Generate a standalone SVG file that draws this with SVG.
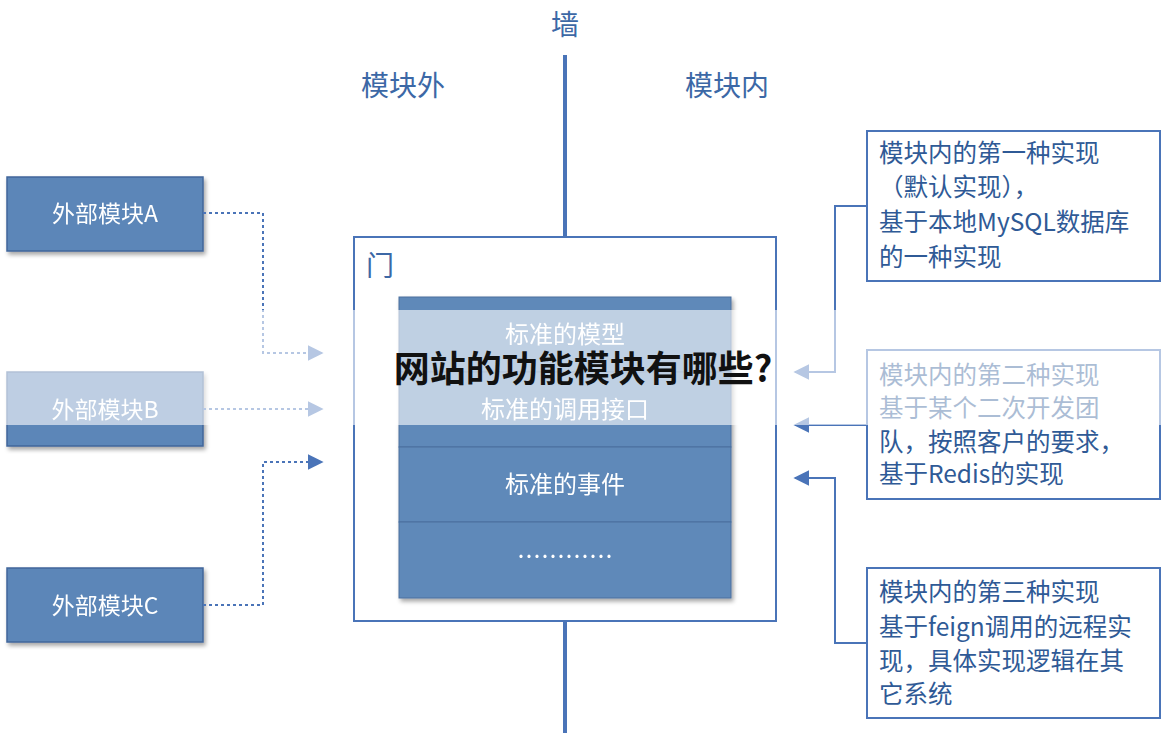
<svg xmlns="http://www.w3.org/2000/svg" width="1163" height="735" viewBox="0 0 1163 735">
<defs>
<style>
text{font-family:"Noto Sans CJK SC","Noto Sans",sans-serif}
.lbl{fill:#3c68a6;font-size:28px}
.mod rect{fill:#5b86b8;stroke:#41669a;stroke-width:1.5}
.mod text{fill:#fff;font-size:23px;text-anchor:middle}
.cell rect{fill:#5f89b9;stroke:#4a6f9e;stroke-width:1}
.cell text{fill:#fff;font-size:24px;text-anchor:middle}
.note rect{fill:#fff;stroke:#4a74b8;stroke-width:2}
.note text{fill:#2f5a96;font-size:24.5px}
.dot{fill:none;stroke:#4a74b8;stroke-width:2;stroke-dasharray:3 3}
.sol{fill:none;stroke:#4a74b8;stroke-width:2}
.wall{stroke:#4a74b8;stroke-width:4}
</style>
<marker id="ah" viewBox="0 0 10 10" refX="9" refY="5" markerWidth="16" markerHeight="16" markerUnits="userSpaceOnUse" orient="auto"><path d="M0,0L10,5L0,10z" fill="#4a74b8"/></marker>
<filter id="sh"><feDropShadow dx="2" dy="3" stdDeviation="2" flood-opacity="0.35"/></filter>
</defs>
<rect width="1163" height="735" fill="#fff"/>
<g id="wall"><text x="565" y="35" class="lbl" text-anchor="middle">墙</text>
<line class="wall" x1="565" y1="55" x2="565" y2="238"/><line class="wall" x1="565" y1="620" x2="565" y2="733"/></g>
<text x="403" y="96" class="lbl" text-anchor="middle">模块外</text>
<text x="727" y="96" class="lbl" text-anchor="middle">模块内</text>
<g id="door"><rect x="354" y="237" width="422" height="384" fill="#fff" stroke="#4a74b8" stroke-width="2"/>
<text x="366" y="276" class="lbl">门</text></g>
<g id="stack" filter="url(#sh)">
<g class="cell" id="c1"><rect x="399" y="297" width="332" height="75"/><text x="565" y="343">标准的模型</text></g>
<g class="cell" id="c2"><rect x="399" y="372" width="332" height="75"/><text x="565" y="418">标准的调用接口</text></g>
<g class="cell" id="c3"><rect x="399" y="447" width="332" height="75"/><text x="565" y="493">标准的事件</text></g>
<g class="cell" id="c4"><rect x="399" y="522" width="332" height="76"/><text x="565" y="565">…………</text></g>
</g>
<g id="modA" class="mod" filter="url(#sh)"><rect x="7" y="177" width="196" height="74"/><text x="105" y="222">外部模块A</text></g>
<g id="modB" class="mod" filter="url(#sh)"><rect x="7" y="372" width="196" height="74"/><text x="105" y="418">外部模块B</text></g>
<g id="modC" class="mod" filter="url(#sh)"><rect x="7" y="568" width="196" height="74"/><text x="105" y="614">外部模块C</text></g>
<g id="n1" class="note"><rect x="867" y="131" width="293" height="150"/>
<text x="879" y="162">模块内的第一种实现</text><text x="879" y="196">（默认实现），</text><text x="879" y="231">基于本地MySQL数据库</text><text x="879" y="266">的一种实现</text></g>
<g id="n2" class="note"><rect x="867" y="350" width="293" height="149"/>
<text x="879" y="384">模块内的第二种实现</text><text x="879" y="417">基于某个二次开发团</text><text x="879" y="451">队，按照客户的要求，</text><text x="879" y="483">基于Redis的实现</text></g>
<g id="n3" class="note"><rect x="867" y="568" width="293" height="150"/>
<text x="879" y="601">模块内的第三种实现</text><text x="879" y="636">基于feign调用的远程实</text><text x="879" y="670">现，具体实现逻辑在其</text><text x="879" y="703">它系统</text></g>
<g id="connectors">
<path class="dot" d="M203,213H263V353H322" marker-end="url(#ah)"/>
<path class="dot" d="M203,409H322" marker-end="url(#ah)"/>
<path class="dot" d="M203,605H263V462H322" marker-end="url(#ah)"/>
<path class="sol" d="M867,206H835V372H795" marker-end="url(#ah)"/>
<path class="sol" d="M867,425H795" marker-end="url(#ah)"/>
<path class="sol" d="M867,643H835V478H795" marker-end="url(#ah)"/>
</g>
<rect x="0" y="310" width="1163" height="115" fill="#fff" opacity="0.6"/>
<text x="583" y="382" font-size="36" font-weight="bold" fill="#111" text-anchor="middle">网站的功能模块有哪些?</text>
</svg>
